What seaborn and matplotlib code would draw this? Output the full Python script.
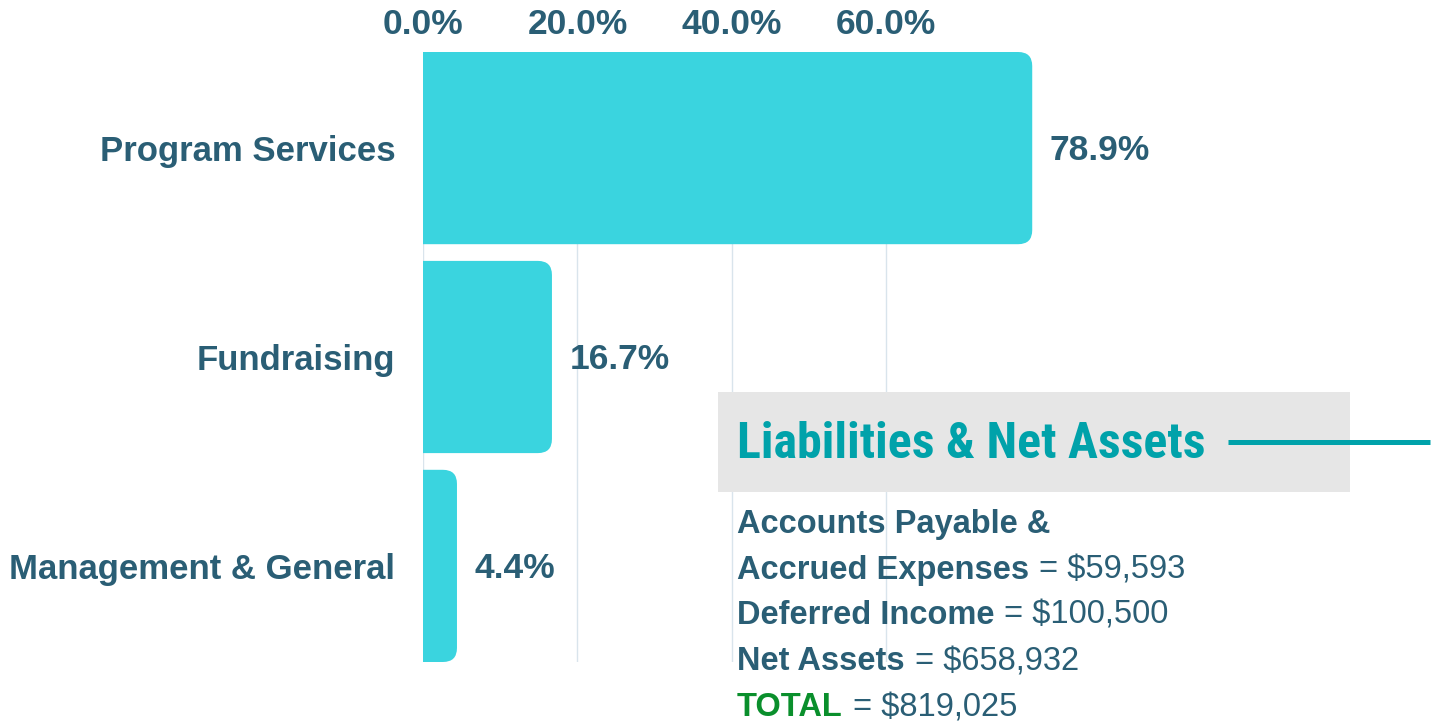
import matplotlib
matplotlib.use("Agg")
import matplotlib.pyplot as plt
from matplotlib import font_manager
from matplotlib.path import Path
from matplotlib.patches import PathPatch, Rectangle
from matplotlib.transforms import IdentityTransform
import seaborn as sns
import pandas as pd

# ---------------- data ----------------
categories = ["Program Services", "Fundraising", "Management & General"]
shares = [78.9, 16.7, 4.4]
x_ticks = [0, 20, 40, 60]

panel_title = "Liabilities & Net Assets"
item_names = ["Accounts Payable &\nAccrued Expenses", "Deferred Income", "Net Assets", "TOTAL"]
item_values = ["$59,593", "$100,500", "$658,932", "$819,025"]

# ---------------- style ----------------
W, H = 1437, 724
DARK = "#2A5E75"
BAR = "#3AD4DF"
TEAL = "#00A2AA"
GREEN = "#0A8F2C"
GRID = "#D9E4EC"

sns.set_theme(style="white")
plt.rcParams["font.family"] = ["Liberation Sans", "DejaVu Sans"]


def has_font(name):
    try:
        f = font_manager.findfont(font_manager.FontProperties(family=name),
                                  fallback_to_default=False)
        return f is not None
    except Exception:
        return False


title_family = "Liberation Sans"
title_size = 30.5
for cand, size in [("Roboto Condensed", 36), ("Liberation Sans Narrow", 35),
                   ("DejaVu Sans Condensed", 30), ("Open Sans Condensed", 35)]:
    if has_font(cand):
        title_family, title_size = cand, size
        break

fig = plt.figure(figsize=(W / 100, H / 100), dpi=100)
fig.patch.set_facecolor("white")


def fx(px):
    return px / W


def fy(py):
    return 1 - py / H


ax_left, ax_right, ax_top, ax_bot = 423, 1033, 52, 662
ax = fig.add_axes([fx(ax_left), fy(ax_bot), fx(ax_right - ax_left), (ax_bot - ax_top) / H])

df = pd.DataFrame({"category": categories, "share": shares})
sns.barplot(data=df, y="category", x="share", orient="h", color=BAR,
            saturation=1, width=0.92, ax=ax, zorder=2)

ax.set_xlim(0, 79)
ax.set_ylim(2.46, -0.46)
ax.set_xlabel("")
ax.set_ylabel("")
for s in ax.spines.values():
    s.set_visible(False)
ax.xaxis.tick_top()
ax.set_xticks(x_ticks)
ax.set_xticklabels([f"{t:.1f}%" for t in x_ticks])
ax.tick_params(axis="x", length=0, pad=8, labelsize=25.5, labelcolor=DARK)
ax.tick_params(axis="y", length=0, pad=20, labelsize=25, labelcolor=DARK)
for lab in ax.get_xticklabels() + ax.get_yticklabels():
    lab.set_fontweight("bold")
ax.set_axisbelow(True)
ax.grid(axis="x", color=GRID, linewidth=1.0, zorder=0)
ax.grid(axis="y", visible=False)
ax.set_facecolor("none")

# rounded right corners for bars (drawn in pixel space from the bar geometry)
r = 14
for p in list(ax.patches):
    x0, y0 = p.get_x(), p.get_y()
    w, h = p.get_width(), p.get_height()
    (X0, Y0) = ax.transData.transform((x0, y0))
    (X1, Y1) = ax.transData.transform((x0 + w, y0 + h))
    L, R = min(X0, X1), max(X0, X1)
    B, T = min(Y0, Y1), max(Y0, Y1)
    rr = min(r, (R - L), (T - B) / 2)
    verts = [(L, B), (R - rr, B), (R, B), (R, B + rr), (R, T - rr), (R, T), (R - rr, T), (L, T), (L, B)]
    codes = [Path.MOVETO, Path.LINETO, Path.CURVE3, Path.CURVE3, Path.LINETO,
             Path.CURVE3, Path.CURVE3, Path.LINETO, Path.CLOSEPOLY]
    pp = PathPatch(Path(verts, codes), transform=IdentityTransform(), facecolor=BAR,
                   edgecolor="none", zorder=3)
    fig.add_artist(pp)
    p.set_visible(False)
    # value label
    ax.text(x0 + w + 2.3, y0 + h / 2 + 0.012, f"{w:.1f}%", ha="left", va="center",
            fontsize=25.5, fontweight="bold", color=DARK, clip_on=False, zorder=4)

# ---------------- Liabilities panel ----------------
fig.add_artist(Rectangle((fx(718), fy(492)), fx(1350 - 718), (492 - 392) / H,
                         transform=fig.transFigure, facecolor="#E6E6E6",
                         edgecolor="none", zorder=5))
fig.text(fx(737), fy(444), panel_title, ha="left", va="center", fontsize=title_size,
         fontweight="bold", color=TEAL, family=[title_family, "DejaVu Sans"], zorder=6)
fig.add_artist(plt.Line2D([fx(1228), fx(1430)], [fy(442), fy(442)], transform=fig.transFigure,
                          color=TEAL, linewidth=3.6, solid_capstyle="butt", zorder=6))

line_y = [524, 570, 615, 662, 708]
fig.canvas.draw()
renderer = fig.canvas.get_renderer()
li = 0
for name, val in zip(item_names, item_values):
    parts = name.split("\n")
    color = GREEN if name == "TOTAL" else DARK
    for k, part in enumerate(parts):
        t = fig.text(fx(737), fy(line_y[li]), part, ha="left", va="center", fontsize=23.5,
                     fontweight="bold", color=color, zorder=6)
        if k == len(parts) - 1:
            bb = t.get_window_extent(renderer=renderer)
            fig.text((bb.x1 + 10) / W, fy(line_y[li]), f"= {val}", ha="left", va="center",
                     fontsize=23.5, color=DARK, zorder=6)
        li += 1

fig.savefig("out.png", dpi=100, facecolor="white")
